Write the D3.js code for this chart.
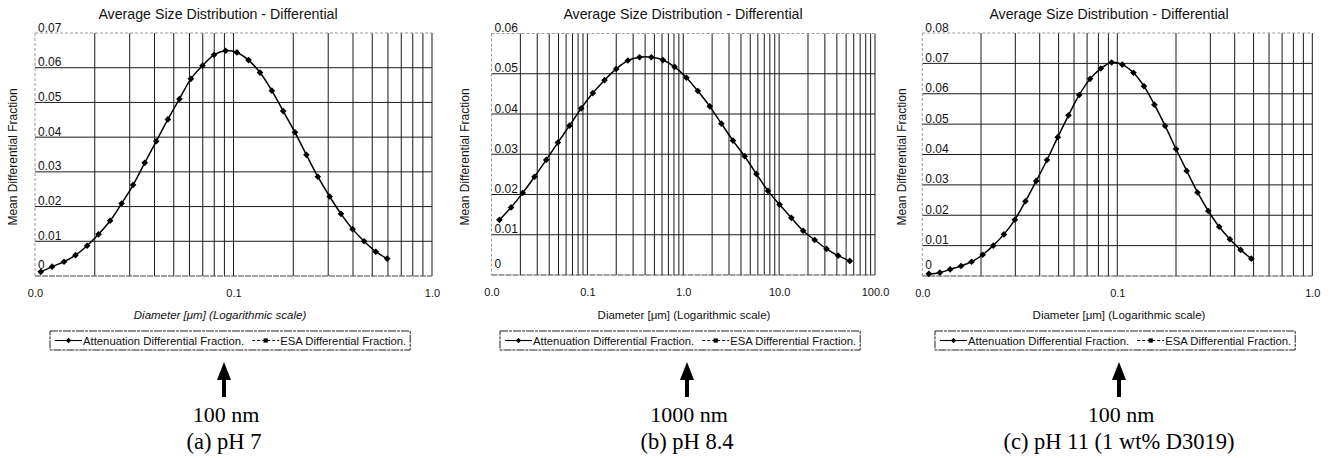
<!DOCTYPE html>
<html>
<head>
<meta charset="utf-8">
<script src="https://cdn.jsdelivr.net/npm/d3@7"></script>
<style>
body { margin: 0; background: #fff; }
svg { display: block; font-family: "Liberation Sans", Arial, sans-serif; }
</style>
</head>
<body>
<div id="chart-area"></div>
<script>
// (a) pH 7
var diamA = [0.0107,0.0122,0.0140,0.0160,0.0183,0.0209,0.0239,0.0273,0.0312,0.0357,0.0408,0.0467,0.0534,0.0610,0.0698,0.0798,0.0912,0.104,0.119,0.136,0.156,0.178,0.204,0.233,0.266,0.305,0.348,0.398,0.455,0.521,0.595];
var fracA = [0.0012,0.0027,0.0041,0.0060,0.0087,0.0120,0.0159,0.0209,0.0262,0.0326,0.0388,0.0451,0.0510,0.0568,0.0606,0.0637,0.0649,0.0644,0.0622,0.0586,0.0534,0.0475,0.0414,0.0349,0.0286,0.0229,0.0179,0.0135,0.0100,0.0070,0.0050];
// (b) pH 8.4
var diamB = [0.0121,0.0160,0.0212,0.0281,0.0372,0.0492,0.0651,0.0862,0.114,0.151,0.200,0.265,0.350,0.464,0.614,0.813,1.08,1.42,1.89,2.50,3.30,4.37,5.79,7.66,10.1,13.4,17.8,23.5,31.2,41.2,54.6];
var fracB = [0.0137,0.0168,0.0204,0.0244,0.0286,0.0329,0.0371,0.0414,0.0452,0.0484,0.0512,0.0533,0.0541,0.0541,0.0534,0.0517,0.0490,0.0457,0.0419,0.0376,0.0334,0.0295,0.0251,0.0209,0.0175,0.0142,0.0110,0.0087,0.0065,0.0048,0.0035];
// (c) pH 11
var diamC = [0.0108,0.0123,0.0139,0.0158,0.0179,0.0204,0.0231,0.0262,0.0298,0.0338,0.0384,0.0436,0.0495,0.0562,0.0638,0.0725,0.0823,0.0935,0.106,0.121,0.137,0.155,0.176,0.200,0.227,0.258,0.293,0.333,0.378,0.429,0.487];
var fracC = [0.0007,0.0011,0.0022,0.0033,0.0047,0.0070,0.0100,0.0137,0.0185,0.0246,0.0313,0.0382,0.0457,0.0529,0.0596,0.0649,0.0683,0.0703,0.0696,0.0669,0.0625,0.0564,0.0494,0.0418,0.0346,0.0275,0.0214,0.0162,0.0121,0.0086,0.0057];

// ticks
var yTicksA = [0,0.01,0.02,0.03,0.04,0.05,0.06,0.07];
var yTicksB = [0,0.01,0.02,0.03,0.04,0.05,0.06];
var yTicksC = [0,0.01,0.02,0.03,0.04,0.05,0.06,0.07,0.08];
var xTicksAC = [0.01,0.1,1];
var xLabelsAC = ["0.0","0.1","1.0"];
var xTicksB = [0.01,0.1,1,10,100];
var xLabelsB = ["0.0","0.1","1.0","10.0","100.0"];

var chartTitle = "Average Size Distribution - Differential";
var yTitle = "Mean Differential Fraction";
var xTitle = "Diameter [\u03bcm] (Logarithmic scale)";
var legendLabels = ["Attenuation Differential Fraction.", "ESA Differential Fraction."];
var sizeLabels = ["100 nm", "1000 nm", "100 nm"];
var condLabels = ["(a) pH 7", "(b) pH 8.4", "(c) pH 11 (1 wt% D3019)"];

var svg = d3.select("#chart-area")
    .append("svg")
        .attr("width", 1332)
        .attr("height", 458);

var panels = [
    { diam: diamA, frac: fracA, yTicks: yTicksA, xTicks: xTicksAC, xLabels: xLabelsAC,
      x0: 35, x1: 432, y0: 276, y1: 33, titleX: 218, yTitleX: 17, xTitleX: 220, italic: true,
      legendX: 50, arrowX: 224 },
    { diam: diamB, frac: fracB, yTicks: yTicksB, xTicks: xTicksB, xLabels: xLabelsB,
      x0: 491.5, x1: 875, y0: 275, y1: 33.5, titleX: 683, yTitleX: 469, xTitleX: 684, italic: false,
      legendX: 500, arrowX: 687 },
    { diam: diamC, frac: fracC, yTicks: yTicksC, xTicks: xTicksAC, xLabels: xLabelsAC,
      x0: 922.3, x1: 1312.3, y0: 276, y1: 33, titleX: 1109, yTitleX: 906, xTitleX: 1119, italic: false,
      legendX: 935, arrowX: 1119 }
];

panels.forEach(function(p, i){
    var x = d3.scaleLog()
        .domain([p.xTicks[0], p.xTicks[p.xTicks.length - 1]])
        .range([p.x0, p.x1]);
    var yMax = p.yTicks[p.yTicks.length - 1];
    var y = d3.scaleLinear()
        .domain([0, yMax])
        .range([p.y0, p.y1]);

    var g = svg.append("g").attr("class", "panel");

    // grid - vertical (log minor ticks)
    g.selectAll(".vgrid")
        .data(x.ticks().filter(function(d){ return d > x.domain()[0] * 1.0001; }))
        .enter().append("line")
        .attr("x1", function(d){ return x(d); })
        .attr("x2", function(d){ return x(d); })
        .attr("y1", y(yMax))
        .attr("y2", y(0))
        .attr("stroke", "#1a1a1a")
        .attr("stroke-width", 1);

    // grid - horizontal
    g.selectAll(".hgrid")
        .data(p.yTicks.filter(function(d){ return d > 0 && d < yMax; }))
        .enter().append("line")
        .attr("x1", x.range()[0])
        .attr("x2", x.range()[1])
        .attr("y1", function(d){ return y(d); })
        .attr("y2", function(d){ return y(d); })
        .attr("stroke", "#1a1a1a")
        .attr("stroke-width", 1);

    // frame: faint top/left, darker bottom
    g.append("line")
        .attr("x1", x.range()[0]).attr("x2", x.range()[1])
        .attr("y1", y(yMax)).attr("y2", y(yMax))
        .attr("stroke", "#999").attr("stroke-dasharray", "3,2");
    g.append("line")
        .attr("x1", x.range()[0]).attr("x2", x.range()[0])
        .attr("y1", y(yMax)).attr("y2", y(0))
        .attr("stroke", "#999").attr("stroke-dasharray", "3,2");
    g.append("line")
        .attr("x1", x.range()[0]).attr("x2", x.range()[1])
        .attr("y1", y(0)).attr("y2", y(0))
        .attr("stroke", "#444").attr("stroke-dasharray", "6,1");

    // y axis labels sit inside the plot, just above their gridlines
    var yAxis = g.append("g")
        .attr("transform", "translate(" + x.range()[0] + ",0)")
        .call(d3.axisRight(y)
            .tickValues(p.yTicks)
            .tickSize(0)
            .tickPadding(3)
            .tickFormat(function(d){ return d === 0 ? "0" : d3.format(".2f")(d); }));
    yAxis.select(".domain").remove();
    yAxis.selectAll("text")
        .attr("font-size", "12px")
        .attr("font-family", "Liberation Sans, Arial, sans-serif")
        .attr("fill", "#111")
        .attr("dy", function(d){ return d === 0 ? "-0.6em" : "-0.16em"; });

    // x axis labels
    var xAxis = g.append("g")
        .attr("transform", "translate(0," + y(0) + ")")
        .call(d3.axisBottom(x)
            .tickValues(p.xTicks)
            .tickSize(0)
            .tickPadding(13)
            .tickFormat(function(d, j){ return p.xLabels[j]; }));
    xAxis.select(".domain").remove();
    xAxis.selectAll("text")
        .attr("font-size", "11px")
        .attr("font-family", "Liberation Sans, Arial, sans-serif")
        .attr("fill", "#111");

    // title
    g.append("text")
        .attr("x", p.titleX)
        .attr("y", 19)
        .attr("text-anchor", "middle")
        .attr("font-size", "14.2px")
        .attr("fill", "#111")
        .text(chartTitle);

    // y title
    g.append("text")
        .attr("transform", "translate(" + p.yTitleX + ",157) rotate(-90)")
        .attr("text-anchor", "middle")
        .attr("font-size", "12px")
        .attr("fill", "#111")
        .text(yTitle);

    // x title
    g.append("text")
        .attr("x", p.xTitleX)
        .attr("y", 319)
        .attr("text-anchor", "middle")
        .attr("font-size", "11.5px")
        .attr("font-style", p.italic ? "italic" : "normal")
        .attr("fill", "#111")
        .text(xTitle);

    // series
    var pts = p.diam.map(function(d, j){ return { d: d, f: p.frac[j] }; });
    var line = d3.line()
        .x(function(d){ return x(d.d); })
        .y(function(d){ return y(d.f); })
        .curve(d3.curveCatmullRom.alpha(0.5));
    g.append("path")
        .datum(pts)
        .attr("d", line)
        .attr("fill", "none")
        .attr("stroke", "#000")
        .attr("stroke-width", 1.5);

    var diamond = d3.symbol().type(d3.symbolSquare).size(22);
    g.selectAll(".pt")
        .data(pts)
        .enter().append("path")
        .attr("class", "pt")
        .attr("d", diamond)
        .attr("transform", function(d){ return "translate(" + x(d.d) + "," + y(d.f) + ") rotate(45)"; })
        .attr("fill", "#000");

    // legend
    var lg = g.append("g").attr("transform", "translate(" + p.legendX + ",331)");
    var box = lg.append("rect")
        .attr("x", 0).attr("y", 0)
        .attr("height", 19)
        .attr("fill", "#fff")
        .attr("stroke", "#222")
        .attr("stroke-width", 1)
        .attr("stroke-dasharray", "8,1,3,1");
    var cx = 5;
    legendLabels.forEach(function(lab, k){
        lg.append("line")
            .attr("x1", cx).attr("x2", cx + 27)
            .attr("y1", 9.5).attr("y2", 9.5)
            .attr("stroke", "#000")
            .attr("stroke-width", 1.1)
            .attr("stroke-dasharray", k === 0 ? null : "3,2");
        lg.append("path")
            .attr("d", d3.symbol().type(d3.symbolSquare).size(k === 0 ? 14 : 18))
            .attr("transform", "translate(" + (cx + 13.5) + ",9.5)" + (k === 0 ? " rotate(45)" : ""))
            .attr("fill", "#000");
        var t = lg.append("text")
            .attr("x", cx + 28)
            .attr("y", 13.5)
            .attr("font-size", "11.3px")
            .attr("fill", "#111")
            .text(lab);
        cx = cx + 28 + t.node().getComputedTextLength() + 8;
    });
    box.attr("width", cx - 4);

    // arrow
    var ax = p.arrowX;
    g.append("path")
        .attr("d", "M" + ax + ",362 L" + (ax + 7) + ",380 L" + (ax + 2) + ",380 L" + (ax + 2) + ",397 L" +
            (ax - 2) + ",397 L" + (ax - 2) + ",380 L" + (ax - 7) + ",380 Z")
        .attr("fill", "#000");

    // captions
    g.append("text")
        .attr("x", ax + 2)
        .attr("y", 422)
        .attr("text-anchor", "middle")
        .attr("font-family", "Liberation Serif, Times New Roman, serif")
        .attr("font-size", "22px")
        .attr("fill", "#000")
        .text(sizeLabels[i]);
    g.append("text")
        .attr("x", ax)
        .attr("y", 449)
        .attr("text-anchor", "middle")
        .attr("font-family", "Liberation Serif, Times New Roman, serif")
        .attr("font-size", "22.5px")
        .attr("fill", "#000")
        .text(condLabels[i]);
});
</script>
</body>
</html>
